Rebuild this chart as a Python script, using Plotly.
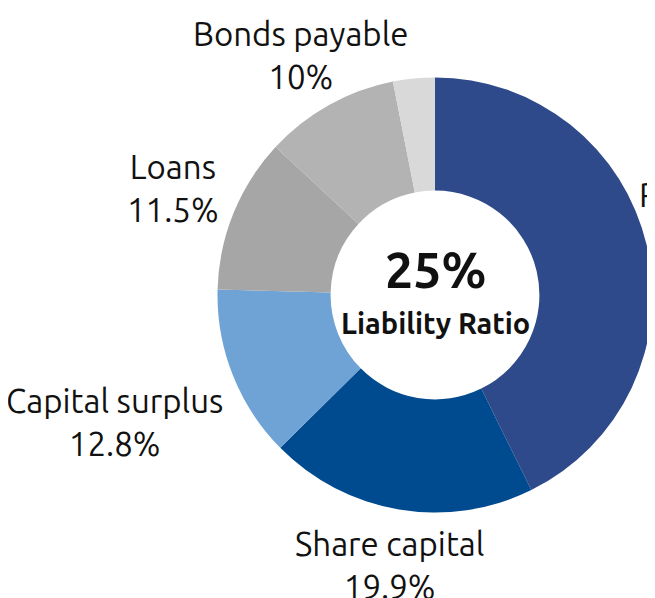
import math
import plotly.graph_objects as go

# slices, clockwise from 12 o'clock
labels = ['Retained earnings', 'Share capital', 'Capital surplus', 'Loans', 'Bonds payable', 'Other']
shares = [42.7, 19.9, 12.8, 11.5, 10.0, 3.1]
show_label = [True, True, True, True, True, False]
colors = ['#2F4A8A', '#004A8F', '#6FA3D6', '#A6A6A6', '#B3B3B3', '#D9D9D9']

center_value = '25%'
center_caption = 'Liability Ratio'

FONT = 'Ubuntu, Open Sans, sans-serif'
# page has an 8px body margin; keep the figure inside the 655x598 window
W, H = 647, 590
CX, CY, R = 427, 287, 217.5
LABEL_DIST = [347, 274, 345, 283, 275, 0]   # label centre distance from pie centre, px

fig = go.Figure(go.Pie(
    labels=labels,
    values=shares,
    sort=False,
    direction='clockwise',
    rotation=0,
    hole=0.48,
    marker=dict(colors=colors, line=dict(width=0)),
    textinfo='none',
    domain=dict(x=[(CX - R) / W, (CX + R) / W], y=[1 - (CY + R) / H, 1 - (CY - R) / H]),
    showlegend=False,
    hoverinfo='label+value',
))

# outside labels along each slice's mid angle
total = sum(shares)
start = 0.0
for lab, val, show, dist in zip(labels, shares, show_label, LABEL_DIST):
    mid = math.radians((start + val / 2) / total * 360)
    start += val
    if not show:
        continue
    px = CX + dist * math.sin(mid)
    py = CY - dist * math.cos(mid)
    fig.add_annotation(x=px / W, y=1 - py / H, xref='paper', yref='paper',
                       text=f'{lab}<br>{val:g}%', showarrow=False,
                       xanchor='center', yanchor='middle',
                       font=dict(size=33, color='#111111', family=FONT))

fig.add_annotation(x=CX / W, y=1 - 261 / H, xref='paper', yref='paper',
                   text=f'<b>{center_value}</b>', showarrow=False,
                   font=dict(size=50, color='#111111', family=FONT))
fig.add_annotation(x=CX / W, y=1 - 315 / H, xref='paper', yref='paper',
                   text=f'<b>{center_caption}</b>', showarrow=False,
                   font=dict(size=29, color='#111111', family=FONT))

fig.update_layout(
    width=W, height=H,
    margin=dict(l=0, r=0, t=0, b=0),
    paper_bgcolor='white',
    plot_bgcolor='white',
)

fig.write_html('out.html')
